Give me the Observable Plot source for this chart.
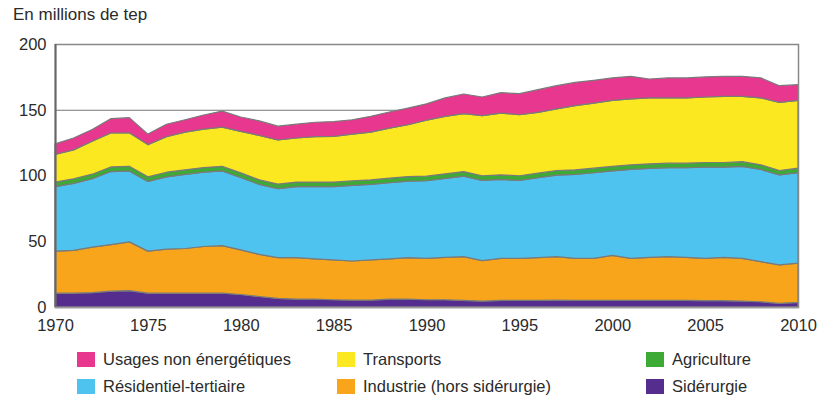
<!DOCTYPE html>
<html>
<head>
<meta charset="utf-8">
<script src="https://cdn.jsdelivr.net/npm/d3@7"></script>
<script src="https://cdn.jsdelivr.net/npm/@observablehq/plot@0.6"></script>
<style>
  html, body { margin: 0; padding: 0; background: #fff; }
  body { width: 820px; height: 401px; position: relative; overflow: hidden; font-family: "Liberation Sans", Arial, sans-serif; color: #2b2b2b; }
  #title { position: absolute; left: 13px; top: 5px; font-size: 17px; color: #2b2b2b; }
  #chart { position: absolute; left: 0; top: 30px; }
  .leg { position: absolute; font-size: 16.5px; color: #2b2b2b; display: flex; align-items: center; white-space: nowrap; }
  .sw { width: 18px; height: 15px; margin-right: 8px; display: inline-block; }
</style>
</head>
<body>
<div id="title">En millions de tep</div>
<div id="chart"></div>
<div id="legend"></div>
<script>
const years = d3.range(1970, 2011);
const seriesNames = ["Sidérurgie", "Industrie (hors sidérurgie)", "Résidentiel-tertiaire", "Agriculture", "Transports", "Usages non énergétiques"];
const colors = ["#552d8e", "#f8a51b", "#4fc3ef", "#3daa35", "#fbe821", "#e8378e"];

const siderurgie = [10.5,10.5,11,12,12.5,10.5,10.5,10.5,10.5,10.5,9.5,8,6.5,6,6,5.5,5.3,5.3,6,6,5.5,5.5,5,4.5,5,5,5,5.3,5,5,5,5,5,5,5,4.8,4.8,4.5,4,2.8,3.5];
const industrie = [32,32.5,34.5,35.5,37,32,33.5,34,35.5,36.2,34,32,31,31.5,30.6,30.3,29.7,30.5,30.6,31.5,31.5,32.3,33.3,30.8,32,32,32.5,33,32,32,34.3,32,32.8,33.3,32.8,32.2,33,32.5,30.5,29.2,29.8];
const residentiel = [49,51,52,55.5,54,53,55,56.3,56.5,56.8,55,53.2,52.5,54,54.9,55.7,57.5,57.4,57.9,58.2,59,60,61.2,61,60,59.3,60.8,62,63.8,65.1,64.2,67.6,67.6,67.6,68.1,69.4,68.6,70,70.1,68.5,68.9];
const agriculture = [3.5,3.5,3.5,3.5,3.5,3.5,3.5,3.5,3.5,3.5,3.5,3.5,3.5,3.5,3.5,3.5,3.5,3.5,3.5,3.5,3.5,3.5,3.5,3.5,3.5,3.5,3.5,3.5,3.5,3.5,3.5,3.5,3.5,3.5,3.5,3.5,3.5,3.5,3.5,3.3,3.4];
const transports = [21,22,25,25.8,25.5,24.5,27,28.7,29.3,29.8,31.5,33.8,33.5,33.5,34.5,34.7,35.5,36.3,38,39.4,42.5,43.7,44,45.7,47,46.4,46.2,46.8,48.8,49.5,50.1,50.1,50.1,49.6,49.6,49.8,50.3,49.7,50.9,51.8,51.5];
const usagesNonEnerg = [8,9,9,10.9,11.5,8,9.5,9.4,10.7,12.2,11,11,10.5,10.5,11,11.3,10.9,12,12.3,12.7,12.5,14,15,14.2,15.5,16,17.3,17.7,17.7,17.3,17.1,17.2,14.4,15.2,15.2,15.3,15.2,15.2,15.2,12.7,12];
const xTicks = [1970, 1975, 1980, 1985, 1990, 1995, 2000, 2005, 2010];
const yTicks = [0, 50, 100, 150, 200];

const seriesValues = [siderurgie, industrie, residentiel, agriculture, transports, usagesNonEnerg];
const data = [];
seriesNames.forEach((name, i) => {
  years.forEach((yr, j) => data.push({year: yr, series: name, value: seriesValues[i][j]}));
});

const chart = Plot.plot({
  width: 820,
  height: 310,
  marginLeft: 55,
  marginRight: 22,
  marginTop: 14,
  marginBottom: 33,
  style: {fontFamily: "'Liberation Sans', Arial, sans-serif", fontSize: "16.5px", color: "#2b2b2b", background: "#fff"},
  x: {domain: [1970, 2010], ticks: xTicks, tickFormat: d3.format("d"), tickSize: 0, tickPadding: 12, label: null},
  y: {domain: [0, 200], ticks: yTicks, tickSize: 0, tickPadding: 9, label: null},
  color: {domain: seriesNames, range: colors},
  marks: [
    Plot.ruleY(yTicks.filter(d => d > 0 && d < 200), {stroke: "#777", strokeWidth: 1}),
    Plot.areaY(data, Plot.stackY({x: "year", y: "value", fill: "series", order: seriesNames, stroke: "#7a7a7a", strokeWidth: 1.2})),
    Plot.frame({stroke: "#888", strokeWidth: 1.5}),
    Plot.ruleX([1970], {stroke: "#666", strokeWidth: 2}),
    Plot.ruleY([0], {stroke: "#999", strokeWidth: 1.5})
  ]
});
document.getElementById("chart").appendChild(chart);

const legendPos = [
  {name: "Usages non énergétiques", left: 77, top: 352},
  {name: "Transports", left: 337, top: 352},
  {name: "Agriculture", left: 646, top: 352},
  {name: "Résidentiel-tertiaire", left: 77, top: 379},
  {name: "Industrie (hors sidérurgie)", left: 337, top: 379},
  {name: "Sidérurgie", left: 646, top: 379}
];
const legend = document.getElementById("legend");
legendPos.forEach(p => {
  const c = colors[seriesNames.indexOf(p.name)];
  const div = document.createElement("div");
  div.className = "leg";
  div.style.left = p.left + "px";
  div.style.top = (p.top - 2) + "px";
  div.innerHTML = `<span class="sw" style="background:${c}"></span><span>${p.name}</span>`;
  legend.appendChild(div);
});
</script>
</body>
</html>
